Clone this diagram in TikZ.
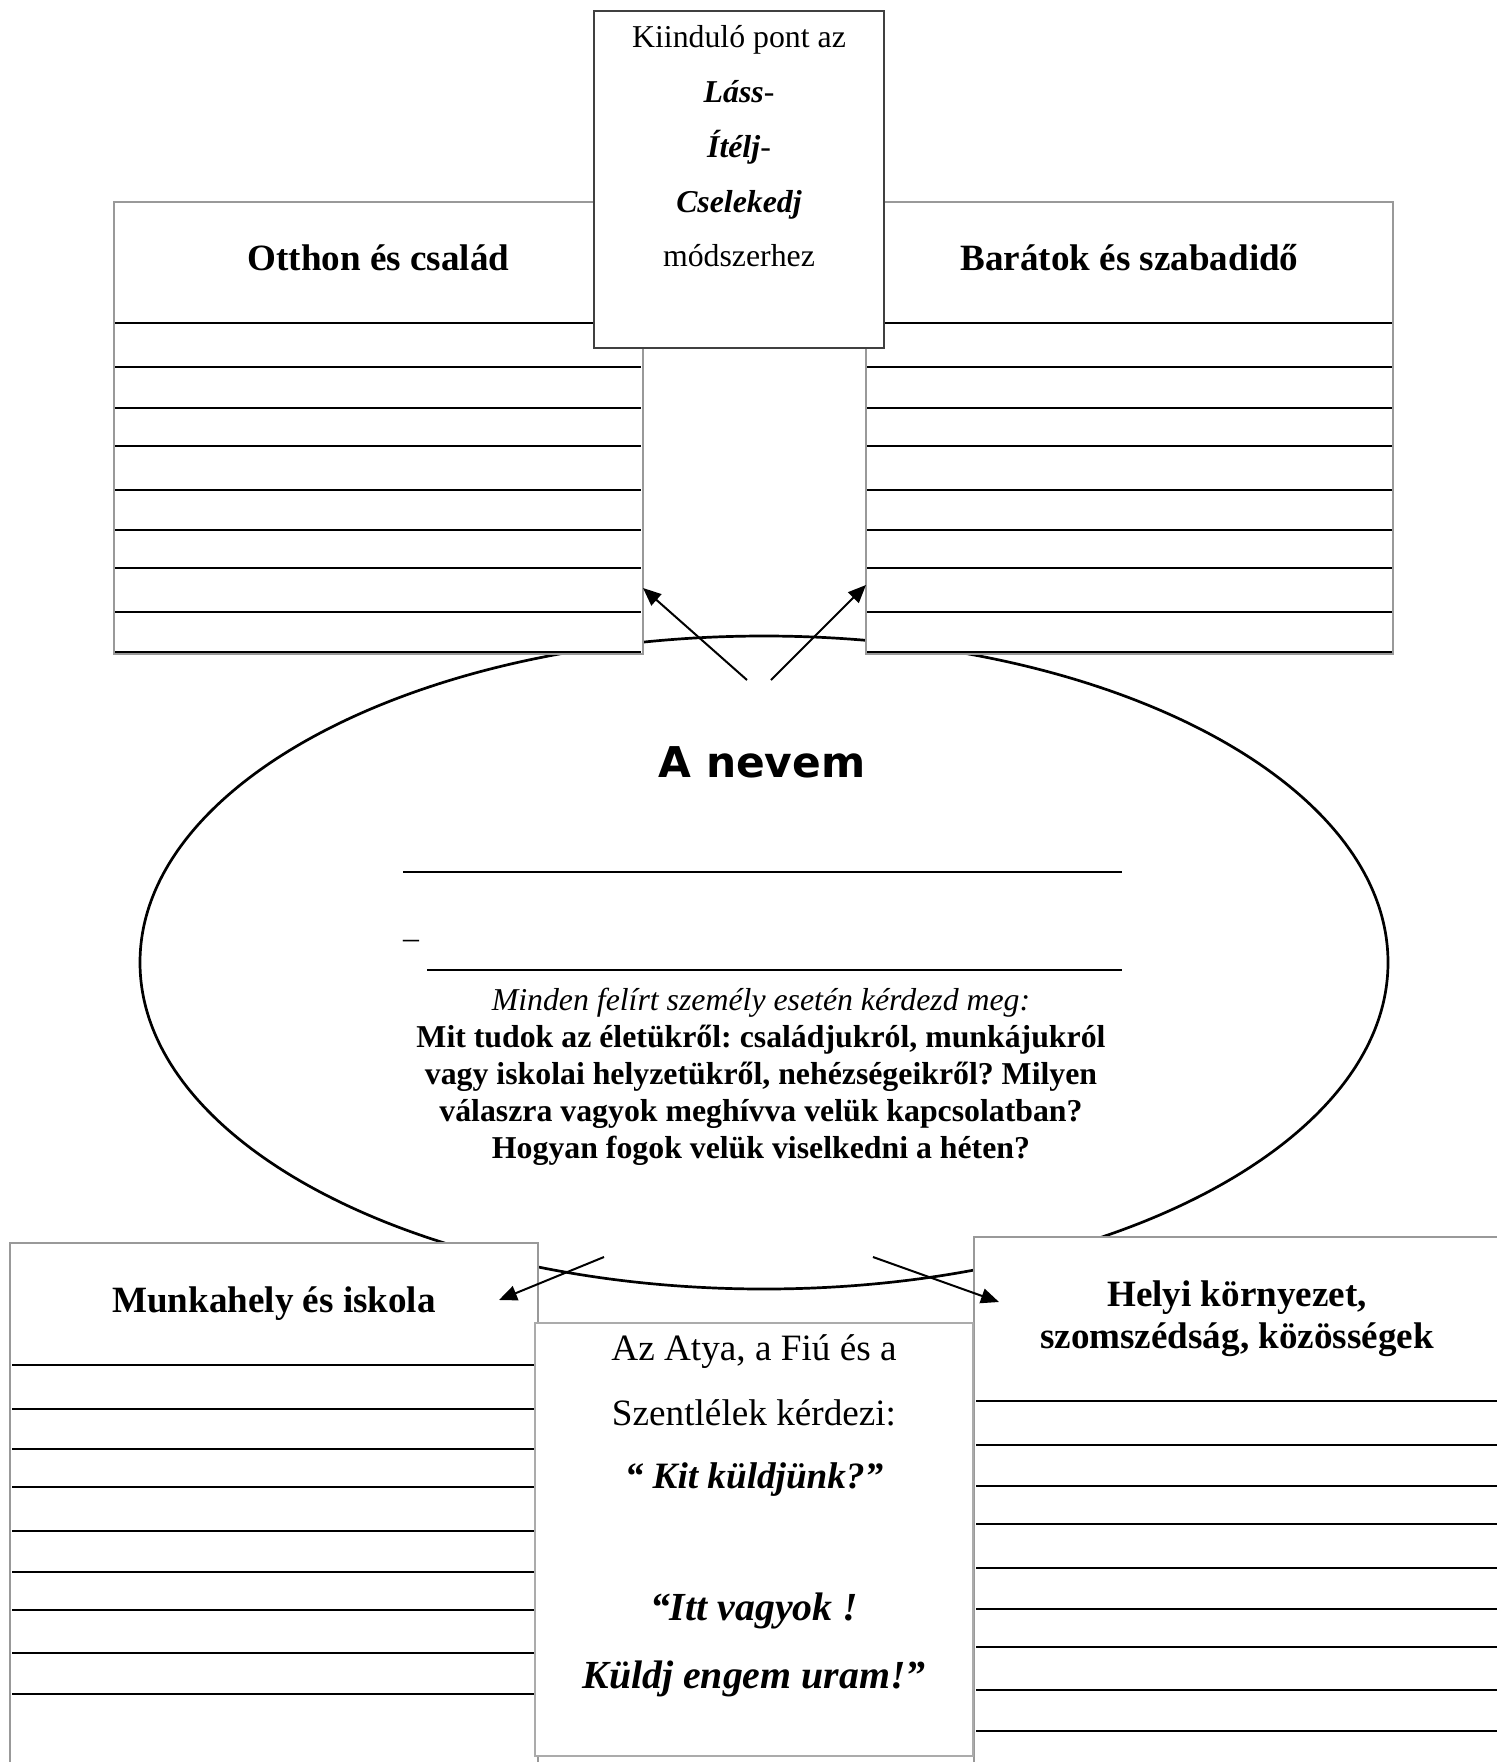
\documentclass[tikz,border=0pt]{standalone}
\usepackage{fontspec}
\setmainfont{Liberation Serif}
\newfontfamily\dvsans{DejaVu Sans}
\usetikzlibrary{shapes.geometric,arrows.meta,calc}
\frenchspacing
\newcommand\bodyfnt{\fontsize{15.9}{19}\selectfont}
\newcommand\headfnt{\fontsize{18.55}{21}\selectfont\bfseries}
\newcommand\askfnt{\fontsize{18.6}{21}\selectfont}
\newcommand\bigask{\fontsize{19.9}{23}\selectfont\bfseries\itshape}
\begin{document}
\begin{tikzpicture}[x=0.5pt,y=-0.5pt,
  sidebox/.style={draw=black!40, line width=0.75pt, fill=white, rectangle, inner sep=0pt, outer sep=0pt, anchor=north west},
  topbox/.style={draw=black!75, line width=0.9pt, fill=white, rectangle, inner sep=0pt, outer sep=0pt, anchor=north west},
  midbox/.style={draw=black!33, line width=0.75pt, fill=white, rectangle, inner sep=0pt, outer sep=0pt, anchor=north west},
  rule/.style={line width=1pt, black},
  arr/.style={-{Triangle[length=9pt,width=7.5pt]}, line width=1pt, black},
  txt/.style={anchor=base, inner sep=0pt, outer sep=0pt}]
\useasboundingbox (0,0) rectangle (1496,1762);
\fill[white] (0,0) rectangle (1496,1762);

% central ellipse
\node[draw, ellipse, line width=1.35pt, minimum width=624pt, minimum height=326.5pt, inner sep=0pt] (E) at (764,962.5) {};

% side boxes
\node[sidebox, minimum width=264.5pt, minimum height=226pt] (L) at (114,202) {};
\foreach \yy in {323,367,408,446,490,530,568,612,652} \draw[rule] (115,\yy) -- (641,\yy);
\node[sidebox, minimum width=263.5pt, minimum height=226pt] (R) at (866,202) {};
\foreach \yy in {323,367,408,446,490,530,568,612,652} \draw[rule] (867,\yy) -- (1392,\yy);
\node[sidebox, minimum width=264pt, minimum height=280pt] (BL) at (10,1243) {};
\foreach \yy in {1365,1409,1449,1487,1531,1572,1610,1653,1694} \draw[rule] (12,\yy) -- (537,\yy);
\node[sidebox, minimum width=270pt, minimum height=285pt] (BR) at (974,1237) {};
\foreach \yy in {1401,1445,1486,1524,1568,1609,1647,1690,1731} \draw[rule] (976,\yy) -- (1500,\yy);

% top box
\node[topbox, minimum width=145pt, minimum height=168.5pt] (T) at (594,11) {};
% bottom centre box
\node[midbox, minimum width=219pt, minimum height=216.5pt] (BC) at (535,1323) {};

% top box text
\node[txt, font=\bodyfnt] (t1) at (739,47) {Kiinduló pont az};
\node[txt, font=\bodyfnt] (t2) at (739,102) {\textbf{\textit{Láss}}-};
\node[txt, font=\bodyfnt] (t3) at (739,157) {\textbf{\textit{Ítélj}}-};
\node[txt, font=\bodyfnt] (t4) at (739,212) {\textbf{\textit{Cselekedj}}};
\node[txt, font=\bodyfnt] (t5) at (739,266) {módszerhez};

% headings
\node[txt, font=\headfnt] (hL) at (378.5,270) {Otthon és család};
\node[txt, font=\headfnt] (hR) at (1129.5,270) {Barátok és szabadidő};
\node[txt, font=\headfnt] (hBL) at (274,1312) {Munkahely és iskola};
\node[txt, font=\headfnt] (hBR1) at (1237,1306) {Helyi környezet,};
\node[txt, font=\headfnt] (hBR2) at (1237,1348) {szomszédság, közösségek};

% ellipse content
\node[txt, font=\dvsans\bfseries\fontsize{21.2}{25}\selectfont] (name) at (762,777) {A nevem};
\draw[rule] (403,872) -- (1122,872);
\node[txt, font=\bodyfnt, anchor=base west] (dash) at (403,948) {–};
\draw[rule] (427,970) -- (1122,970);
\node[txt, font=\bodyfnt\itshape] (q0) at (761,1010) {Minden felírt személy esetén kérdezd meg:};
\node[txt, font=\bodyfnt\bfseries] (q1) at (761,1047) {Mit tudok az életükről: családjukról, munkájukról};
\node[txt, font=\bodyfnt\bfseries] (q2) at (761,1084) {vagy iskolai helyzetükről, nehézségeikről? Milyen};
\node[txt, font=\bodyfnt\bfseries] (q3) at (761,1121) {válaszra vagyok meghívva velük kapcsolatban?};
\node[txt, font=\bodyfnt\bfseries] (q4) at (761,1158) {Hogyan fogok velük viselkedni a héten?};

% bottom centre text
\node[txt, font=\askfnt] (b1) at (754,1360) {Az Atya, a Fiú és a};
\node[txt, font=\askfnt] (b2) at (754,1425) {Szentlélek kérdezi:};
\node[txt, font=\askfnt\bfseries\itshape] (b3) at (754,1488) {“ Kit küldjünk?”};
\node[txt, font=\bigask] (b4) at (754,1620) {“Itt vagyok !};
\node[txt, font=\bigask] (b5) at (754,1688) {Küldj engem uram!”};

% arrows
\coordinate (s1) at (747,680);
\coordinate (s2) at (771,680);
\coordinate (s3) at (604,1257);
\coordinate (s4) at (873,1257);
\coordinate (e1) at (L.south east |- 0,588);
\coordinate (e2) at (R.south west |- 0,585);
\coordinate (e3) at ($(BL.north east)+(-39,57)$);
\coordinate (e4) at ($(BR.north west)+(25,65)$);
\draw[arr] (s1) -- (e1);
\draw[arr] (s2) -- (e2);
\draw[arr] (s3) -- (e3);
\draw[arr] (s4) -- (e4);
\end{tikzpicture}
\end{document}
